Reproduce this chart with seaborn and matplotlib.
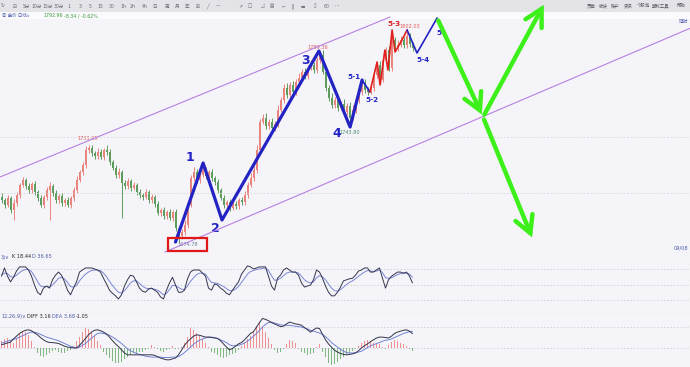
import numpy as np
import matplotlib
matplotlib.use("Agg")
import matplotlib.pyplot as plt
import seaborn as sns
from matplotlib.patches import Rectangle, FancyArrowPatch

# ---------------- data ----------------
first_open = 1702.0
close = [
    1700.0, 1697.0, 1701.2, 1694.0, 1698.2, 1703.0, 1709.0, 1712.0, 1708.4, 1706.0,
    1709.6, 1704.8, 1701.2, 1697.0, 1701.8, 1706.0, 1708.4, 1704.2, 1700.0, 1702.4,
    1698.2, 1700.0, 1697.0, 1701.2, 1706.0, 1712.0, 1716.8, 1721.0, 1730.0, 1731.2,
    1728.2, 1726.4, 1728.8, 1725.8, 1730.0, 1728.8, 1722.8, 1719.2, 1715.0, 1716.8,
    1710.2, 1708.4, 1711.4, 1707.2, 1709.0, 1704.8, 1703.0, 1701.8, 1704.8, 1700.0,
    1701.8, 1697.6, 1692.2, 1694.0, 1690.4, 1692.8, 1689.2, 1692.8, 1683.2, 1678.4,
    1680.8, 1685.0, 1697.0, 1713.2, 1716.8, 1712.0, 1715.0, 1718.0, 1714.4, 1716.8,
    1713.2, 1710.8, 1706.0, 1701.2, 1697.0, 1698.8, 1695.2, 1697.6, 1696.4, 1700.0,
    1698.8, 1703.0, 1709.0, 1713.2, 1718.0, 1730.0, 1746.8, 1749.2, 1744.4, 1746.8,
    1743.2, 1745.6, 1754.0, 1760.0, 1767.2, 1763.0, 1769.0, 1764.8, 1770.8, 1773.2,
    1776.8, 1774.4, 1779.2, 1781.0, 1778.0, 1784.0, 1787.0, 1776.8, 1767.2, 1761.2,
    1757.0, 1760.0, 1755.2, 1757.6, 1752.8, 1756.4, 1749.2, 1754.0, 1760.0, 1764.8,
    1769.6, 1766.0, 1764.8, 1767.2, 1775.0, 1781.0, 1772.0, 1784.0, 1790.0, 1779.2,
    1796.0, 1791.2, 1793.0, 1796.0, 1793.0, 1798.4, 1793.6, 1791.2]
upper_shadow = [
    2, 1.5, 2, 1, 2.5, 2, 1.5, 2, 1, 2,
    1.5, 2, 1, 2, 1.5, 2, 2.5, 1, 2, 1.5,
    2, 1, 2, 1.5, 2, 2.5, 1.5, 2, 2.5, 1.8,
    2, 1.5, 2.5, 2, 1.5, 3, 2, 1.5, 2, 2.5,
    1.5, 2, 2, 1.5, 2, 1, 2, 1.5, 2, 1,
    2, 1.5, 2, 1, 2, 1.5, 2, 1, 2, 1.5,
    2, 3, 2.5, 2, 3, 2, 1.5, 2.5, 2, 1.5,
    2, 1.5, 2, 1, 2, 1.5, 2, 1, 2, 1.5,
    2, 2.5, 2, 3, 2.5, 3, 2, 2.5, 3, 2,
    2.5, 2, 3, 2, 2.5, 3, 2, 2.5, 2, 3,
    2, 2.5, 2, 3, 2, 2, 2.4, 3, 2.5, 2,
    3, 2, 2.5, 2, 3, 2, 2.5, 3, 2, 2.5,
    2, 3, 2, 2.5, 3, 2, 2.5, 3, 2, 2.5,
    4.8, 2, 3, 2.5, 2, 3.6, 2, 1.5]
lower_shadow = [
    1.5, 2, 1, 2, 6, 1.5, 2, 1, 2, 1.5,
    2, 1.5, 2, 1, 2, 1.5, 18, 2, 1.5, 2,
    1.5, 2, 1, 2, 1.5, 2, 1, 2, 1.5, 2,
    2, 1.5, 2, 1, 2, 1.5, 2, 1, 2, 1.5,
    21, 2, 1.5, 2, 1, 2, 1.5, 2, 1, 2,
    1.5, 2, 1, 2, 1.5, 2, 1, 2, 1.5, 3.6,
    2, 1.5, 2, 1, 2, 1.5, 2, 1, 2, 1.5,
    2, 1.5, 2, 1, 2, 1.5, 2, 1, 2, 1.5,
    2, 1.5, 2, 1, 2, 1.5, 2, 1, 2, 1.5,
    2, 1.5, 2, 1, 2, 1.5, 2, 1, 2, 1.5,
    2, 1.5, 2, 1, 2, 1.5, 2, 1, 2, 1.5,
    2, 1.5, 2, 1, 2, 1.5, 5.4, 1, 2, 1.5,
    2, 1.5, 2, 1, 2, 1.5, 2, 1, 2, 1.5,
    2, 1.5, 2, 1, 2, 1.5, 2, 1.5]

k_line = [
    67, 83, 67, 56, 65, 77, 85, 85, 85, 79,
    67, 50, 36, 31, 44, 48, 44, 60, 69, 75,
    69, 56, 40, 31, 44, 56, 75, 79, 83, 83,
    83, 81, 79, 75, 63, 52, 40, 34, 29, 23,
    31, 48, 60, 69, 67, 56, 44, 38, 36, 42,
    44, 40, 36, 27, 23, 40, 54, 65, 50, 36,
    36, 40, 62, 75, 79, 79, 79, 73, 67, 44,
    40, 52, 50, 44, 40, 34, 31, 40, 48, 56,
    71, 79, 87, 85, 81, 83, 85, 85, 85, 67,
    48, 40, 63, 69, 79, 83, 79, 75, 75, 69,
    54, 46, 48, 50, 60, 79, 75, 63, 48, 36,
    29, 29, 36, 46, 58, 60, 62, 63, 69, 77,
    79, 83, 83, 75, 75, 79, 83, 63, 44, 60,
    67, 71, 75, 75, 73, 75, 67, 54]
d_line = [
    70, 73, 72, 66, 65, 69, 74, 78, 80, 80,
    76, 67, 57, 48, 47, 47, 46, 50, 56, 63,
    65, 62, 55, 47, 46, 49, 58, 65, 71, 75,
    78, 79, 79, 78, 73, 66, 57, 49, 42, 36,
    34, 39, 46, 54, 58, 58, 53, 48, 44, 43,
    43, 42, 40, 36, 31, 34, 41, 49, 49, 45,
    42, 41, 48, 57, 64, 70, 73, 73, 71, 62,
    55, 54, 53, 50, 47, 43, 39, 39, 42, 47,
    55, 63, 71, 76, 78, 80, 81, 82, 83, 78,
    68, 59, 60, 63, 68, 73, 75, 75, 75, 73,
    67, 60, 56, 54, 56, 64, 68, 66, 60, 52,
    44, 39, 38, 41, 46, 51, 55, 58, 62, 67,
    71, 75, 78, 77, 76, 77, 79, 74, 64, 63,
    64, 67, 70, 72, 72, 73, 71, 65]

macd_hist = [
    1.5, 2.0, 2.2, 1.5, 1.2, 2.0, 3.0, 3.8, 3.5, 2.8,
    1.5, 0.3, -1.0, -1.8, -2.0, -1.5, -1.2, -0.6, -0.4, -0.8,
    -1.2, -1.0, -0.7, -0.5, 0.5, 1.5, 2.5, 3.5, 4.5, 4.2,
    3.5, 2.6, 1.6, 0.6, -0.8, -1.5, -2.2, -2.8, -3.2, -3.3,
    -3.0, -2.5, -2.0, -1.5, -1.2, -1.0, -0.9, -0.8, -0.5, -0.2,
    0.6, 0.3, -0.3, -0.6, -0.8, -0.4, -0.2, 0.4, -0.3, -0.2,
    0.3, 1.0, 2.5, 4.4, 4.0, 3.2, 2.6, 2.0, 1.2, 0.3,
    -0.8, -1.2, -1.6, -2.0, -2.2, -2.0, -1.6, -1.4, -1.0, -0.4,
    0.4, 1.2, 2.0, 2.6, 3.5, 4.8, 5.5, 4.6, 3.5, 2.2,
    0.8, -0.5, -1.0, -0.8, -0.3, 0.8, 1.8, 1.5, 1.0, -0.3,
    -0.8, -1.2, -1.5, -1.3, -1.0, 0.3, 0.8, -0.8, -2.0, -3.2,
    -3.7, -3.5, -3.0, -2.5, -1.9, -1.4, -1.0, -0.6, -0.3, 0.4,
    1.0, 1.5, 1.8, 1.5, 1.2, 1.0, 0.8, 0.3, -0.2, 0.6,
    1.4, 1.8, 1.6, 1.2, 0.8, 0.4, -0.3, -0.6]
diff_line = [
    0.7, 0.9, 1.1, 1.3, 2.0, 2.6, 3.2, 3.6, 3.9, 4.0,
    3.8, 3.3, 2.9, 2.3, 1.8, 1.4, 1.2, 1.2, 1.1, 1.0,
    0.7, 0.4, 0.2, 0.1, 0.0, 0.0, 0.6, 1.3, 2.1, 2.9,
    3.5, 3.9, 4.0, 3.8, 3.5, 3.1, 2.4, 1.6, 0.9, 0.3,
    -0.4, -1.1, -1.5, -1.5, -1.5, -1.5, -1.5, -1.5, -1.5, -1.5,
    -1.5, -1.6, -1.9, -2.2, -2.4, -2.6, -2.6, -2.4, -2.2, -1.5,
    -0.5, 0.6, 1.4, 2.0, 2.6, 2.9, 2.8, 2.6, 2.4, 2.4,
    2.3, 2.2, 2.1, 1.6, 0.9, 0.2, -0.4, -0.1, 0.4, 0.9,
    1.2, 1.8, 2.5, 3.2, 3.6, 4.6, 5.6, 6.5, 6.3, 6.0,
    5.6, 5.3, 5.0, 4.7, 4.8, 5.3, 5.7, 5.5, 5.3, 5.2,
    5.0, 4.5, 4.0, 3.5, 4.0, 4.4, 4.3, 3.0, 1.8, 0.9,
    0.2, -0.5, -0.9, -1.2, -1.4, -1.5, -1.4, -1.3, -1.1, -0.6,
    0.0, 0.5, 0.9, 1.4, 1.8, 2.2, 2.4, 2.4, 2.3, 2.2,
    2.6, 3.2, 3.5, 3.7, 3.9, 4.0, 3.7, 3.16]
dea_line = [
    1.1, 1.3, 1.5, 1.7, 1.9, 2.1, 2.4, 2.7, 3.0, 3.3,
    3.5, 3.5, 3.3, 3.0, 2.7, 2.4, 2.2, 2.0, 1.8, 1.6,
    1.3, 1.0, 0.7, 0.4, 0.2, 0.0, 0.2, 0.6, 1.0, 1.6,
    2.2, 2.7, 3.2, 3.3, 3.2, 3.0, 2.8, 2.4, 2.0, 1.5,
    1.0, 0.4, -0.2, -0.6, -0.9, -1.2, -1.4, -1.6, -1.8, -1.9,
    -2.0, -2.0, -2.0, -2.0, -2.1, -2.1, -2.1, -2.0, -2.0, -1.9,
    -1.5, -1.0, -0.4, 0.2, 0.8, 1.3, 1.7, 2.0, 2.2, 2.4,
    2.4, 2.3, 2.1, 1.8, 1.5, 1.2, 0.7, 0.5, 0.5, 0.6,
    0.8, 1.1, 1.5, 2.0, 2.6, 3.2, 3.9, 4.6, 5.2, 5.6,
    5.7, 5.5, 5.3, 5.1, 5.0, 5.0, 5.0, 4.9, 4.8, 4.7,
    4.6, 4.4, 4.2, 3.9, 3.7, 3.5, 3.3, 3.0, 2.5, 1.9,
    1.2, 0.7, 0.2, -0.3, -0.7, -1.0, -1.1, -1.1, -1.0, -0.9,
    -0.7, -0.3, 0.1, 0.5, 0.7, 1.0, 1.2, 1.5, 1.7, 1.8,
    2.0, 2.3, 2.6, 2.9, 3.2, 3.4, 3.6, 3.68]

# Elliott wave pivots (bar index, price)
wave_bar = [58.0, 67.2, 73.5, 105.8, 116.2, 120.2]
wave_price = [1674.8, 1722.2, 1688.0, 1789.4, 1743.8, 1772.0]
sub_bar = [120.2, 122.8]
sub_price = [1772.0, 1764.8]
red_bar = [122.8, 125.2, 126.2, 127.8, 128.8, 130.2, 131.2, 133.5, 135.2]
red_price = [1764.8, 1782.8, 1769.0, 1790.0, 1778.0, 1802.0, 1788.8, 1796.0, 1802.0]
tail_bar = [135.2, 138.5, 145.2]
tail_price = [1802.0, 1788.2, 1809.2]
# projected path (bar index, price)
proj_bar = [145.2, 160.5, 181.2, 177.2]
proj_price = [1809.2, 1749.8, 1818.6, 1676.0]
# channel lines (bar index, price)
chan_up_bar = [-0.5, 129.5]
chan_up_price = [1713.8, 1809.8]
chan_lo_bar = [54.5, 229.5]
chan_lo_price = [1668.8, 1803.0]

wave_labels = ["1", "2", "3", "4"]
wave_label_pos = [(62.8, 1725.5), (71.2, 1683.0), (101.2, 1784.0), (111.8, 1740.0)]
sub_labels = ["5-1", "5-2", "5-4", "5-"]
sub_label_pos = [(117.6, 1773.8), (123.5, 1760.0), (140.6, 1784.0), (146.4, 1800.2)]

# ---------------- figure ----------------
W, H = 690, 367
sns.set_theme(style="white")
plt.rcParams["font.family"] = ["DejaVu Sans", "Noto Sans CJK SC"]

fig = plt.figure(figsize=(W / 100, H / 100), dpi=100)
fig.patch.set_facecolor("#f5f5f9")

def fy(p):
    return 1 - p / H

BG = "#f5f5f9"
SEP = "#c9c9d2"
fig.add_artist(Rectangle((0, fy(12)), 1, 12 / H, transform=fig.transFigure,
                         facecolor="#e3e3e8", edgecolor="none", zorder=-2))
fig.add_artist(Rectangle((0, fy(19)), 1, 7 / H, transform=fig.transFigure,
                         facecolor="#fbfbfd", edgecolor="none", zorder=-2))

n = len(close)
idx = np.arange(n)
c = np.array(close)
o = np.r_[first_open, c[:-1]]
hi = np.maximum(o, c) + np.array(upper_shadow)
lo = np.minimum(o, c) - np.array(lower_shadow)
rising = c >= o
RED = "#e8837c"
GREEN = "#5c9c5c"
cols = np.where(rising, RED, GREEN)

XL = (-0.5, 229.5)

# main price panel
ax = fig.add_axes([0, fy(253), 1, (253 - 19) / H])
ax.set_facecolor(BG)
ax.set_xlim(*XL)
ax.set_ylim(1668.2, 1808.6)
for p in (1737.8, 1704.2):
    ax.axhline(p, color="#d6d6de", lw=0.6, ls=(0, (2, 2)), zorder=0)
ax.vlines(idx, lo, hi, colors=cols, lw=0.7, zorder=2)
ax.bar(idx, np.maximum(np.abs(c - o), 0.35), bottom=np.minimum(o, c), width=0.66,
       color=cols, lw=0, zorder=2)

sns.lineplot(x=chan_up_bar, y=chan_up_price, ax=ax, color="#b681e2", lw=0.8, sort=False)
sns.lineplot(x=chan_lo_bar, y=chan_lo_price, ax=ax, color="#b681e2", lw=0.8, sort=False)

BLUE = "#2323c4"
sns.lineplot(x=wave_bar, y=wave_price, ax=ax, color=BLUE, lw=2.3, sort=False, estimator=None)
sns.lineplot(x=sub_bar, y=sub_price, ax=ax, color=BLUE, lw=1.3, sort=False, estimator=None)
sns.lineplot(x=red_bar, y=red_price, ax=ax, color="#e11f1f", lw=1.2, sort=False, estimator=None)
sns.lineplot(x=tail_bar, y=tail_price, ax=ax, color=BLUE, lw=1.2, sort=False, estimator=None)
for ln in ax.lines:
    ln.set_clip_on(False)
    ln.set_zorder(4)

for t, (bx, py) in zip(wave_labels, wave_label_pos):
    ax.text(bx, py, t, color=BLUE, fontsize=9, fontweight="bold", ha="center", va="center")
for t, (bx, py) in zip(sub_labels, sub_label_pos):
    ax.text(bx, py, t, color=BLUE, fontsize=5.2, fontweight="bold", ha="center", va="center")
ax.text(130.8, 1805.6, "5-3", color="#e11f1f", fontsize=5.2, fontweight="bold",
        ha="center", va="center")

# tiny price labels
ax.text(28.8, 1736.6, "1733.05", color="#e05a5a", fontsize=3.6, ha="center", va="center")
ax.text(105.6, 1791.4, "1789.36", color="#e05a5a", fontsize=3.6, ha="center", va="center")
ax.text(116.2, 1740.6, "1743.80", color="#4a8a6a", fontsize=3.6, ha="center", va="center")
ax.text(136.0, 1804.0, "1802.03", color="#e05a5a", fontsize=3.6, ha="center", va="center")
ax.text(62.0, 1673.2, "1674.78", color="#6a7a9a", fontsize=3.6, ha="center", va="center")
ax.add_patch(Rectangle((55.6, 1669.6), 13.0, 7.6, fill=False, edgecolor="#e01818",
                       lw=1.6, zorder=5, clip_on=False))
ax.text(229.0, 1669.6, "09/08", color="#4a5aa8", fontsize=3.6, ha="right", va="bottom")

# projection arrows
GRN = "#3df01a"
def arrow(b0, p0, b1, p1):
    a = FancyArrowPatch((b0, p0), (b1, p1), arrowstyle="->,head_length=5.5,head_width=3",
                        color=GRN, lw=3.2, mutation_scale=2.2, zorder=6, clip_on=False,
                        capstyle="round", joinstyle="miter")
    ax.add_patch(a)

arrow(proj_bar[0], proj_price[0], proj_bar[1], proj_price[1])
arrow(proj_bar[1], proj_price[1], proj_bar[2], proj_price[2])
arrow(proj_bar[1], proj_price[1], proj_bar[3], proj_price[3])

ax.set_xticks([]); ax.set_yticks([])
for s in ("top", "left", "right"):
    ax.spines[s].set_visible(False)
ax.spines["bottom"].set_color(SEP)
ax.spines["bottom"].set_linewidth(0.8)

# KDJ panel
ax2 = fig.add_axes([0, fy(313), 1, 60 / H])
ax2.set_facecolor(BG)
ax2.set_xlim(*XL)
ax2.set_ylim(-4.2, 111.9)
for v in (80, 50, 20):
    ax2.axhline(v, color="#cfcfd8", lw=0.6, ls=(0, (2, 2)), zorder=0)
sns.lineplot(x=idx, y=d_line, ax=ax2, color="#7a86d6", lw=0.7)
sns.lineplot(x=idx, y=k_line, ax=ax2, color="#35354f", lw=0.7)
ax2.set_xticks([]); ax2.set_yticks([])
for s in ("top", "left", "right"):
    ax2.spines[s].set_visible(False)
ax2.spines["bottom"].set_color(SEP)
ax2.spines["bottom"].set_linewidth(0.8)
hdr_y = fy(257)
fig.text(1 / W, hdr_y, "3)∨", fontsize=3.6, color="#4a5aa8", va="center")
fig.text(12 / W, hdr_y, "K 18.44", fontsize=3.6, color="#222222", va="center")
fig.text(32 / W, hdr_y, "D 36.65", fontsize=3.6, color="#4a5aa8", va="center")

# MACD panel
ax3 = fig.add_axes([0, 0, 1, 54 / H])
ax3.set_facecolor(BG)
ax3.set_xlim(*XL)
ax3.set_ylim(-4.18, 7.7)
for v in (4.6, 0.0):
    ax3.axhline(v, color="#cfcfd8", lw=0.6, ls=(0, (2, 2)), zorder=0)
hist = np.array(macd_hist)
ax3.bar(idx, hist, width=0.38, color=np.where(hist >= 0, "#ef8f8f", "#80b880"), lw=0)
sns.lineplot(x=idx, y=dea_line, ax=ax3, color="#7282d4", lw=0.7)
sns.lineplot(x=idx, y=diff_line, ax=ax3, color="#33334a", lw=0.7)
ax3.set_xticks([]); ax3.set_yticks([])
for s in ("top", "left", "right", "bottom"):
    ax3.spines[s].set_visible(False)
hdr_y = fy(316.5)
fig.text(1 / W, hdr_y, "12,26,9)∨", fontsize=3.6, color="#4a5aa8", va="center")
fig.text(27 / W, hdr_y, "DIFF 3.16", fontsize=3.6, color="#222222", va="center")
fig.text(52 / W, hdr_y, "DEA 3.68", fontsize=3.6, color="#4a5aa8", va="center")
fig.text(76 / W, hdr_y, "-1.05", fontsize=3.6, color="#222222", va="center")

# ---------------- toolbar & header texts ----------------
tool_items = ["↻", "⊟", "5分", "10分", "15分", "30分", "1", "3", "5", "15", "30", "1h", "2h",
              "4h", "日", "周", "月", "年", "⊞", "╱", "—",
              "↗", "□", "◿", "▤", "⌐", "‖", "▬", "▯", "60", "⋯"]
tool_x = [3, 15, 26, 37, 48, 59, 69, 80, 90, 100, 112, 123, 133, 145, 155, 167, 177, 187,
          198, 208, 218, 240, 250, 262, 272, 283, 293, 303, 315, 327, 337]
for t, x in zip(tool_items, tool_x):
    fig.text(x / W, fy(6), t, fontsize=3.3, color="#6a6a72", ha="center", va="center")

menu = ["页面", "板块", "账户", "资讯", "个股池", "期权工具", "帮助"]
menu_x = [591, 603, 615, 628, 643, 661, 681]
for t, x in zip(menu, menu_x):
    fig.text(x / W, fy(6), t, fontsize=3.2, color="#55555e", ha="center", va="center")

fig.text(2 / W, fy(15.5), "Ⓧ 金价 日线∨", fontsize=3.2, color="#4a5aa8", va="center")
fig.text(43 / W, fy(15.5), "1792.96", fontsize=3.4, color="#3a9a3a", va="center")
fig.text(64 / W, fy(15.5), "-8.34 / -0.62%", fontsize=3.4, color="#3a9a3a", va="center")
fig.text(688 / W, fy(21.5), "延时", fontsize=3.4, color="#4a5aa8", ha="right", va="center")
fig.add_artist(plt.Line2D([0, 1], [fy(19), fy(19)], transform=fig.transFigure,
                          color="#bdbdc6", lw=0.7, zorder=-1))

fig.savefig("out.png", dpi=100, facecolor=fig.get_facecolor())
